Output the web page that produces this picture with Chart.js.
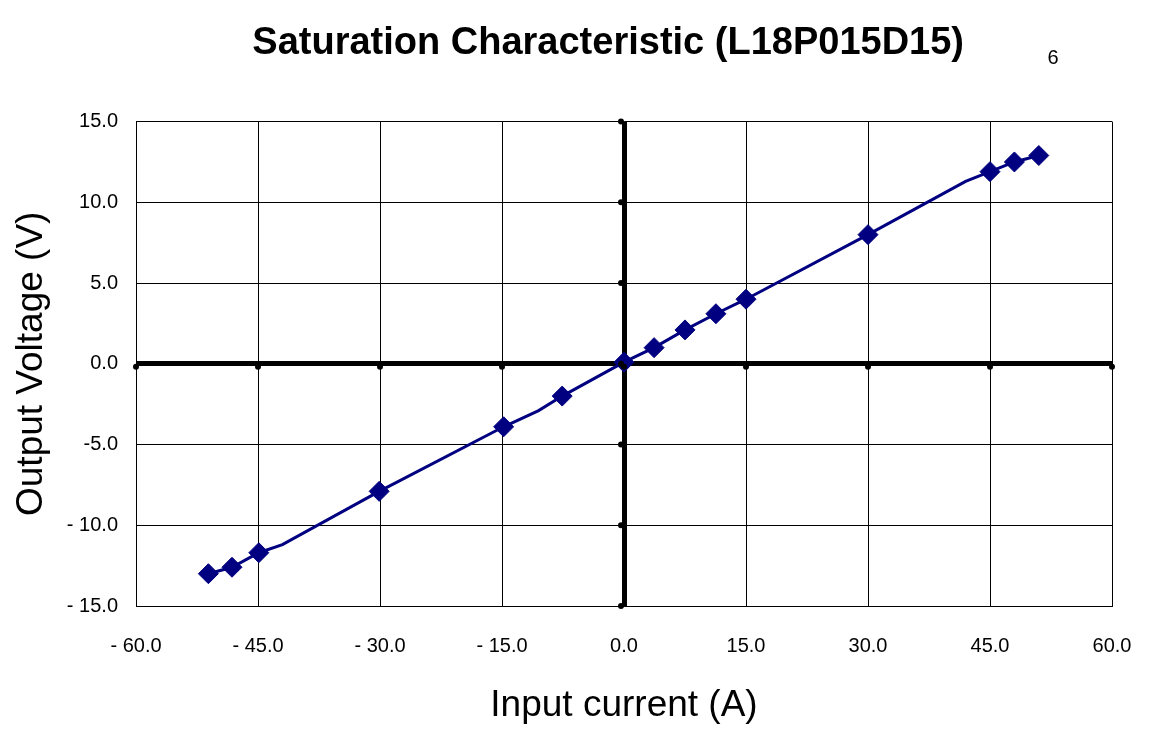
<!DOCTYPE html>
<html>
<head>
<meta charset="utf-8">
<script src="https://cdn.jsdelivr.net/npm/chart.js@4"></script>
<style>
  html, body { margin: 0; padding: 0; background: #fff; }
  #wrap { width: 1149px; height: 729px; }
</style>
</head>
<body>
<div id="wrap"><canvas id="satChart" width="1149" height="729"></canvas></div>
<script>
// measured points (markers)
const currentA = [-51.1, -48.2, -44.9, -30.1, -14.8, -7.6, 0.0, 3.7, 7.5, 11.3, 15.0, 30.0, 45.0, 48.0, 51.0];
const voltageV = [-13.0, -12.6, -11.7, -7.9, -3.9, -2.0, 0.1, 1.0, 2.1, 3.1, 4.0, 8.0, 11.9, 12.5, 12.9];
// extra bends visible on the connecting line (no markers)
const bendA = [-42.0, -10.5, 42.0];
const bendV = [-11.2, -2.9, 11.3];
const xTicks = [-60, -45, -30, -15, 0, 15, 30, 45, 60];
const yTicks = [-15, -10, -5, 0, 5, 10, 15];

const FONT = "'Liberation Sans', Arial, sans-serif";
const NAVY = '#000080';

// Excel puts a gap after the minus on the two-digit values
function fmt(v) {
    if (v >= 0) return v.toFixed(1);
    return Math.abs(v) >= 10 ? '- ' + Math.abs(v).toFixed(1) : '-' + Math.abs(v).toFixed(1);
}

const markerPts = currentA.map((x, i) => ({ x, y: voltageV[i] }));
const linePts = markerPts
    .concat(bendA.map((x, i) => ({ x, y: bendV[i] })))
    .sort((a, b) => a.x - b.x);

// small round stubs on the thick zero axes + the stray "6"
const axisDecor = {
    id: 'axisDecor',
    afterDatasetsDraw(chart) {
        const { ctx, scales: { x, y } } = chart;
        const x0 = x.getPixelForValue(0);
        const y0 = y.getPixelForValue(0);
        ctx.save();
        ctx.fillStyle = '#000';
        xTicks.forEach(v => {
            ctx.beginPath();
            ctx.arc(x.getPixelForValue(v), y0 + 3, 3, 0, Math.PI * 2);
            ctx.fill();
        });
        yTicks.forEach(v => {
            ctx.beginPath();
            ctx.arc(x0 - 3, y.getPixelForValue(v), 3, 0, Math.PI * 2);
            ctx.fill();
        });
        ctx.font = '20px ' + FONT;
        ctx.textAlign = 'center';
        ctx.textBaseline = 'middle';
        ctx.fillText('6', 1053, 58);
        ctx.restore();
    }
};

new Chart(document.getElementById('satChart').getContext('2d'), {
    type: 'scatter',
    data: {
        datasets: [
            {
                label: 'curve',
                data: linePts,
                showLine: true,
                borderColor: NAVY,
                borderWidth: 3,
                pointRadius: 0,
                tension: 0,
                order: 2
            },
            {
                label: 'Output Voltage',
                data: markerPts,
                showLine: false,
                pointStyle: 'rectRot',
                pointRadius: 10,
                pointBackgroundColor: NAVY,
                pointBorderColor: NAVY,
                pointBorderWidth: 1,
                order: 1
            }
        ]
    },
    plugins: [axisDecor],
    options: {
        responsive: false,
        animation: false,
        layout: { padding: { top: 0, right: 37, bottom: 0, left: 0 } },
        plugins: {
            legend: { display: false },
            tooltip: { enabled: false },
            title: {
                display: true,
                fullSize: false,
                text: 'Saturation Characteristic (L18P015D15)\u00a0\u00a0\u00a0',
                color: '#000',
                font: { family: FONT, size: 38, weight: 'bold', lineHeight: 1.2 },
                padding: { top: 21, bottom: 55 }
            }
        },
        scales: {
            x: {
                type: 'linear',
                min: -60,
                max: 60,
                afterFit: s => { s.height = 123; s.paddingLeft = 0; s.paddingRight = 0; },
                afterBuildTicks: s => { s.ticks = xTicks.map(v => ({ value: v })); },
                ticks: {
                    color: '#000',
                    font: { family: FONT, size: 20 },
                    padding: 28,
                    maxRotation: 0,
                    callback: v => (v < 0 ? '- ' + Math.abs(v).toFixed(1) : v.toFixed(1))
                },
                grid: {
                    color: '#000',
                    drawTicks: false,
                    lineWidth: c => (c.tick && c.tick.value === 0 ? 5 : 1)
                },
                border: { display: true, color: '#000', width: 1 },
                title: {
                    display: true,
                    text: 'Input current (A)',
                    color: '#000',
                    font: { family: FONT, size: 37, lineHeight: 1.2 },
                    padding: { top: 0, bottom: 1 }
                }
            },
            y: {
                type: 'linear',
                min: -15,
                max: 15,
                afterFit: s => { s.width = 136; },
                afterBuildTicks: s => { s.ticks = yTicks.map(v => ({ value: v })); },
                ticks: {
                    color: '#000',
                    font: { family: FONT, size: 20 },
                    padding: 18,
                    callback: v => fmt(v)
                },
                grid: {
                    color: '#000',
                    drawTicks: false,
                    lineWidth: c => (c.tick && c.tick.value === 0 ? 5 : 1)
                },
                border: { display: true, color: '#000', width: 1 },
                title: {
                    display: true,
                    text: 'Output Voltage (V)',
                    color: '#000',
                    font: { family: FONT, size: 37, lineHeight: 1.2 },
                    padding: { top: 10, bottom: 0 }
                }
            }
        }
    }
});
</script>
</body>
</html>
